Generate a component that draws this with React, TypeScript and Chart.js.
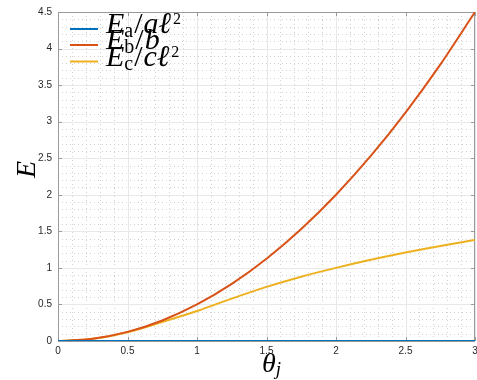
import React, { useEffect, useRef } from "react";
import { Chart, registerables } from "chart.js";

Chart.register(...registerables);

const thetaValues = [0, 0.25, 0.5, 0.75, 1, 1.25, 1.5, 1.75, 2, 2.25, 2.5, 2.75, 3];
const energyA = [0, 0, 0, 0, 0, 0, 0, 0, 0, 0, 0, 0, 0];
const energyB = [0, 0.031, 0.125, 0.281, 0.5, 0.781, 1.125, 1.531, 2, 2.531, 3.125, 3.781, 4.5];
const energyC = [0, 0.03, 0.12, 0.26, 0.41, 0.58, 0.74, 0.88, 1.0, 1.11, 1.21, 1.3, 1.38];

const xTickValues = [0, 0.5, 1, 1.5, 2, 2.5, 3];
const xTickLabels = ["0", "0.5", "1", "1.5", "2", "2.5", "3"];
const yTickValues = [0, 0.5, 1, 1.5, 2, 2.5, 3, 3.5, 4, 4.5];
const yTickLabels = ["0", "0.5", "1", "1.5", "2", "2.5", "3", "3.5", "4", "4.5"];

const seriesNames = ["E_a/aℓ²", "E_b/b", "E_c/cℓ²"];
const seriesColors = ["#0072BD", "#D95319", "#EDB120"];

const SERIF = '"Liberation Serif", "DejaVu Serif", serif';

type Seg = [string, string, number, number?];

function drawSegs(ctx: CanvasRenderingContext2D, x: number, y: number, segs: Seg[]) {
  let cx = x;
  for (const [t, font, dy, dx] of segs) {
    cx += dx || 0;
    ctx.font = font;
    ctx.fillText(t, cx, y + dy);
    cx += ctx.measureText(t).width;
  }
}

const BIG = `italic 30px ${SERIF}`;
const BIGR = `30px ${SERIF}`;
const SUB = `20px ${SERIF}`;
const SUP = `16px ${SERIF}`;

const legendSegs: Seg[][] = [
  [["E", BIG, 0], ["a", SUB, 4, 0], ["/", BIGR, 0, 1], ["a", BIG, 0, 1], ["ℓ", BIG, 0], ["2", SUP, -9, 2]],
  [["E", BIG, 0], ["b", SUB, 4, 0], ["/", BIGR, 0, 1], ["b", BIG, 0, 1]],
  [["E", BIG, 0], ["c", SUB, 4, 0], ["/", BIGR, 0, 1], ["c", BIG, 0, 1], ["ℓ", BIG, 0], ["2", SUP, -9, 2]],
];

const matlabPlugin = {
  id: "matlabDecor",
  beforeDatasetsDraw(chart: any) {
    const { ctx, chartArea } = chart;
    const xs = chart.scales.x;
    const ys = chart.scales.y;
    const { left, right, top, bottom } = chartArea;
    ctx.save();
    // minor grid (dotted)
    ctx.strokeStyle = "#d2d2d2";
    ctx.lineWidth = 1;
    ctx.setLineDash([1, 3]);
    for (let i = 0; i <= 30; i++) {
      if (i % 5 === 0) continue;
      const px = Math.round(xs.getPixelForValue(i / 10)) + 0.5;
      ctx.beginPath();
      ctx.moveTo(px, top);
      ctx.lineTo(px, bottom);
      ctx.stroke();
    }
    for (let i = 0; i <= 45; i++) {
      if (i % 5 === 0) continue;
      const py = Math.round(ys.getPixelForValue(i / 10)) + 0.5;
      ctx.beginPath();
      ctx.moveTo(left, py);
      ctx.lineTo(right, py);
      ctx.stroke();
    }
    // major grid
    ctx.setLineDash([]);
    ctx.strokeStyle = "#e8e8e8";
    for (const v of xTickValues) {
      const px = Math.round(xs.getPixelForValue(v)) + 0.5;
      ctx.beginPath();
      ctx.moveTo(px, top);
      ctx.lineTo(px, bottom);
      ctx.stroke();
    }
    for (const v of yTickValues) {
      const py = Math.round(ys.getPixelForValue(v)) + 0.5;
      ctx.beginPath();
      ctx.moveTo(left, py);
      ctx.lineTo(right, py);
      ctx.stroke();
    }
    // box
    ctx.strokeStyle = "#9a9a9a";
    ctx.lineWidth = 1;
    ctx.strokeRect(Math.round(left) + 0.5, Math.round(top) + 0.5, Math.round(right - left) - 1, Math.round(bottom - top));
    // inward ticks
    const tl = 4;
    for (const v of xTickValues) {
      const px = Math.round(xs.getPixelForValue(v)) + 0.5;
      ctx.beginPath();
      ctx.moveTo(px, bottom);
      ctx.lineTo(px, bottom - tl);
      ctx.moveTo(px, top);
      ctx.lineTo(px, top + tl);
      ctx.stroke();
    }
    for (const v of yTickValues) {
      const py = Math.round(ys.getPixelForValue(v)) + 0.5;
      ctx.beginPath();
      ctx.moveTo(left, py);
      ctx.lineTo(left + tl, py);
      ctx.moveTo(right, py);
      ctx.lineTo(right - tl, py);
      ctx.stroke();
    }
    ctx.restore();
  },
  afterDraw(chart: any) {
    const { ctx } = chart;
    ctx.save();
    // legend
    const rowY = [29, 45, 61.5];
    for (let i = 0; i < seriesNames.length; i++) {
      ctx.strokeStyle = seriesColors[i];
      ctx.lineWidth = 2;
      ctx.beginPath();
      ctx.moveTo(70, rowY[i]);
      ctx.lineTo(98, rowY[i]);
      ctx.stroke();
    }
    ctx.fillStyle = "#000";
    ctx.textBaseline = "alphabetic";
    ctx.textAlign = "left";
    for (let i = 0; i < legendSegs.length; i++) {
      drawSegs(ctx, 106, rowY[i] + 4, legendSegs[i]);
    }
    // x title
    drawSegs(ctx, 262, 372, [
      ["θ", `italic 28px ${SERIF}`, 0],
      ["j", `italic 19px ${SERIF}`, 3],
    ]);
    // y title
    ctx.translate(35, 178);
    ctx.rotate(-Math.PI / 2);
    drawSegs(ctx, 0, 0, [["E", `italic 28px ${SERIF}`, 0]]);
    ctx.restore();
  },
};

export default function App() {
  const ref = useRef<HTMLCanvasElement | null>(null);
  useEffect(() => {
    if (!ref.current) return;
    const mk = (vals: number[]) => thetaValues.map((x, i) => ({ x, y: vals[i] }));
    const chart = new Chart(ref.current, {
      type: "line",
      data: {
        datasets: [
          { label: seriesNames[0], data: mk(energyA), borderColor: seriesColors[0], borderWidth: 2, pointRadius: 0, cubicInterpolationMode: "monotone" },
          { label: seriesNames[1], data: mk(energyB), borderColor: seriesColors[1], borderWidth: 2, pointRadius: 0, cubicInterpolationMode: "monotone" },
          { label: seriesNames[2], data: mk(energyC), borderColor: seriesColors[2], borderWidth: 2, pointRadius: 0, cubicInterpolationMode: "monotone" },
        ],
      },
      options: {
        animation: false,
        responsive: false,
        devicePixelRatio: 1,
        layout: { autoPadding: false, padding: { top: 12, right: 2, left: 0, bottom: 0 } },
        plugins: { legend: { display: false }, tooltip: { enabled: false } },
        scales: {
          x: {
            type: "linear",
            min: 0,
            max: 3,
            afterBuildTicks: (s: any) => { s.ticks = xTickValues.map((v) => ({ value: v })); },
            afterFit: (s: any) => { s.height = 39; s.paddingLeft = 0; s.paddingRight = 0; },
            grid: { display: false, drawTicks: false },
            border: { display: false },
            ticks: {
              padding: 4,
              color: "#262626",
              font: { family: '"Liberation Sans", Arial, sans-serif', size: 10 },
              maxRotation: 0,
              autoSkip: false,
              callback: (_v: any, i: number) => xTickLabels[i],
            },
          },
          y: {
            type: "linear",
            min: 0,
            max: 4.5,
            afterBuildTicks: (s: any) => { s.ticks = yTickValues.map((v) => ({ value: v })); },
            afterFit: (s: any) => { s.width = 58; s.paddingTop = 0; s.paddingBottom = 0; },
            grid: { display: false, drawTicks: false },
            border: { display: false },
            ticks: {
              padding: 6,
              color: "#262626",
              font: { family: '"Liberation Sans", Arial, sans-serif', size: 10 },
              autoSkip: false,
              callback: (_v: any, i: number) => yTickLabels[i],
            },
          },
        },
      },
      plugins: [matlabPlugin],
    } as any);
    return () => chart.destroy();
  }, []);
  return (
    <div style={{ position: "fixed", left: 0, top: 0, width: 477, height: 380, background: "#fff" }}>
      <canvas ref={ref} width={477} height={380} style={{ display: "block" }} />
    </div>
  );
}
